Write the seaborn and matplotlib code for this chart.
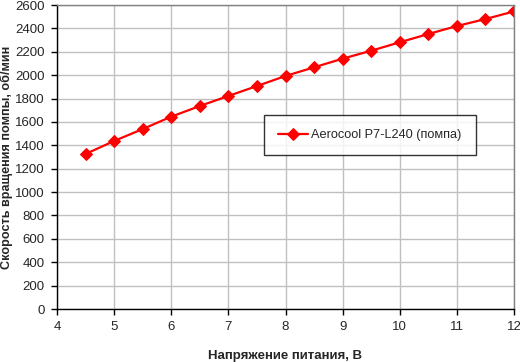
#!/usr/bin/env python3
"""Aerocool P7-L240 pump speed vs voltage -> out.png"""

import matplotlib.pyplot as plt
import pandas as pd
import seaborn as sns

voltage = [4.5, 5, 5.5, 6, 6.5, 7, 7.5, 8, 8.5, 9, 9.5, 10, 10.5, 11, 11.5, 12]
rpm = [1326, 1437, 1539, 1645, 1736, 1822, 1907, 1993, 2067, 2141,
       2209, 2281, 2352, 2420, 2480, 2545]
series = "Aerocool P7-L240 (помпа)"
x_ticks = list(range(4, 13))
y_ticks = list(range(0, 2601, 200))

sns.set_theme(style="white")
plt.rcParams["font.family"] = ["Liberation Sans", "DejaVu Sans"]

df = pd.DataFrame({"voltage": voltage, "rpm": rpm, "name": series})

fig = plt.figure(figsize=(5.2, 3.62), dpi=100)
ax = fig.add_axes([57 / 520, 53 / 362, 457 / 520, 304 / 362])

sns.lineplot(
    data=df, x="voltage", y="rpm", hue="name", palette=["#ff0000"],
    marker="D", markersize=6.5, markeredgecolor="#ff0000", linewidth=1.6,
    ax=ax, legend=True,
)

ax.set_xlim(4, 12)
ax.set_ylim(0, 2600)
ax.set_xticks(x_ticks)
ax.set_yticks(y_ticks)
ax.grid(True, color="#c0c0c0", linewidth=1)
ax.set_axisbelow(True)
for side in ("top", "right"):
    ax.spines[side].set_color("#808080")
    ax.spines[side].set_linewidth(1)
for side in ("left", "bottom"):
    ax.spines[side].set_color("black")
    ax.spines[side].set_linewidth(1)
ax.tick_params(axis="both", direction="out", length=4, width=1, color="black",
               labelsize=9.5, pad=5, left=True, bottom=True)

ax.set_xlabel("Напряжение питания, В", fontsize=9.5, fontweight="bold", labelpad=12)
ax.set_ylabel("")
fig.text(6 / 520, 1 - 157 / 362, "Скорость вращения помпы, об/мин", rotation=90,
         ha="center", va="center", fontsize=9.1, fontweight="bold")

leg = ax.legend(
    loc="center", bbox_to_anchor=(370 / 520, 1 - 135 / 362), bbox_transform=fig.transFigure,
    frameon=True, fancybox=False, shadow=False, fontsize=9.2,
    borderpad=1.1, handlelength=2.3, handletextpad=0.3, borderaxespad=0,
)
leg.get_frame().set_edgecolor("black")
leg.get_frame().set_linewidth(1)

fig.savefig("out.png", dpi=100)
